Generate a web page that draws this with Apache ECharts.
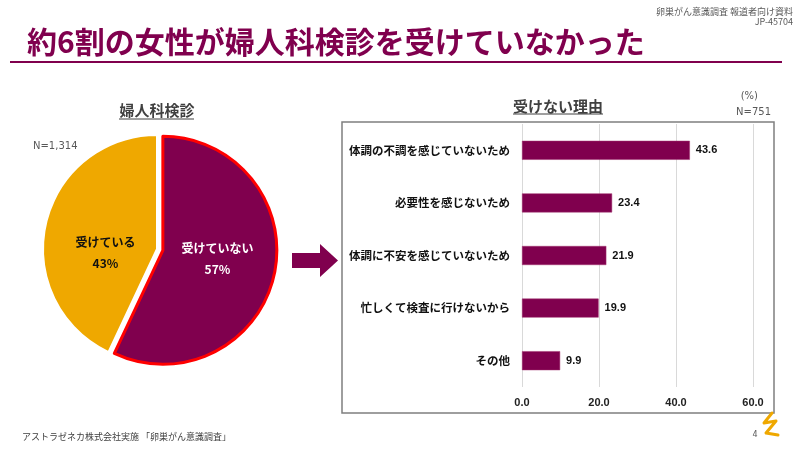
<!DOCTYPE html>
<html><head><meta charset="utf-8">
<script src="https://cdn.jsdelivr.net/npm/echarts@6/dist/echarts.min.js"></script>
<style>html,body{margin:0;padding:0;background:#fff}#c{width:800px;height:450px}</style>
</head><body><div id="c"></div>
<script>
const pieNames = ['受けていない', '受けている'];
const pieValues = [57, 43];
const reasonCategories = ['体調の不調を感じていないため', '必要性を感じないため', '体調に不安を感じていないため', '忙しくて検査に行けないから', 'その他'];
const reasonValues = [43.6, 23.4, 21.9, 19.9, 9.9];
const xTicks = [0, 20, 40, 60];

const PURPLE = '#80004E';
const YELLOW = '#EFA800';
const FONT = '"Noto Sans CJK JP", "Noto Sans", sans-serif';

const chart = echarts.init(document.getElementById('c'));
chart.setOption({
  animation: false,
  textStyle: { fontFamily: FONT },
  grid: { left: 522, right: 47, top: 124, bottom: 63, containLabel: false },
  xAxis: {
    type: 'value', min: xTicks[0], max: xTicks[xTicks.length - 1], interval: 20,
    axisLine: { show: false }, axisTick: { show: false },
    splitLine: { show: true, lineStyle: { color: '#d9d9d9', width: 1 } },
    axisLabel: { formatter: v => v.toFixed(1), color: '#222', fontWeight: 'bold', fontSize: 11, fontFamily: '"Liberation Sans", Arial, sans-serif', margin: 10 }
  },
  yAxis: {
    type: 'category', data: reasonCategories, inverse: true,
    axisLine: { show: false }, axisTick: { show: false },
    axisLabel: { color: '#111', fontWeight: 'bold', fontSize: 11.5, margin: 12, fontFamily: FONT }
  },
  series: [
    {
      type: 'bar', data: reasonValues, barWidth: 19,
      itemStyle: { color: PURPLE, borderColor: '#a0306e', borderWidth: 0.5 },
      label: { show: true, position: 'right', distance: 6, formatter: p => p.value.toFixed(1), color: '#111', fontWeight: 'bold', fontSize: 11, fontFamily: '"Liberation Sans", Arial, sans-serif' }
    },
    {
      type: 'pie', center: [157, 249], radius: 114, startAngle: 90, clockwise: true,
      selectedMode: 'single', selectedOffset: 6,
      data: pieNames.map((n, i) => ({
        name: n, value: pieValues[i], selected: i === 0,
        itemStyle: i === 0 ? { color: PURPLE, borderColor: '#FF0000', borderWidth: 3 } : { color: YELLOW, borderColor: '#fff', borderWidth: 2 },
        label: i === 0 ? { color: '#fff', offset: [-4, -4] } : { color: '#111', offset: [7, 17] },
        select: i === 0 ? { label: { color: '#fff', offset: [-4, -4] } } : undefined
      })),
      label: {
        show: true, position: 'inside', formatter: p => p.name + '\n' + p.value + '%',
        fontWeight: 'bold', fontSize: 12, lineHeight: 21, fontFamily: FONT
      },
      labelLine: { show: false },
      emphasis: { disabled: true }
    }
  ],
  graphic: [
    { type: 'text', right: 7, top: 7, style: { text: '卵巣がん意識調査 報道者向け資料', fill: '#595959', font: '9px ' + FONT, textAlign: 'right' } },
    { type: 'text', right: 7, top: 17, style: { text: 'JP-45704', fill: '#595959', font: '9px ' + FONT, textAlign: 'right' } },
    { type: 'text', left: 27, top: 27, style: { text: '約6割の女性が婦人科検診を受けていなかった', fill: PURPLE, font: 'bold 30px ' + FONT } },
    { type: 'line', shape: { x1: 10, y1: 62, x2: 782, y2: 62 }, style: { stroke: PURPLE, lineWidth: 2 } },
    { type: 'text', x: 157, y: 110, style: { text: '婦人科検診', fill: '#404040', font: 'bold 15px ' + FONT, textAlign: 'center', textVerticalAlign: 'middle' } },
    { type: 'line', shape: { x1: 119, y1: 119, x2: 194, y2: 119 }, style: { stroke: '#404040', lineWidth: 1 } },
    { type: 'text', x: 33, y: 146, style: { text: 'N=1,314', fill: '#595959', font: '10px "DejaVu Sans", sans-serif', textVerticalAlign: 'middle' } },
    { type: 'text', x: 558, y: 106, style: { text: '受けない理由', fill: '#404040', font: 'bold 15px ' + FONT, textAlign: 'center', textVerticalAlign: 'middle' } },
    { type: 'line', shape: { x1: 513, y1: 114, x2: 603, y2: 114 }, style: { stroke: '#404040', lineWidth: 1 } },
    { type: 'text', x: 758, y: 96, style: { text: '(%)', fill: '#595959', font: '10px "DejaVu Sans", sans-serif', textAlign: 'right', textVerticalAlign: 'middle' } },
    { type: 'text', x: 771, y: 112, style: { text: 'N=751', fill: '#595959', font: '10px "DejaVu Sans", sans-serif', textAlign: 'right', textVerticalAlign: 'middle' } },
    { type: 'rect', shape: { x: 342, y: 122, width: 432, height: 291 }, style: { fill: 'none', stroke: '#7f7f7f', lineWidth: 1.5 }, z: -1 },
    { type: 'polygon', shape: { points: [[292, 253], [320, 253], [320, 244], [338, 260.5], [320, 277], [320, 268], [292, 268]] }, style: { fill: PURPLE } },
    { type: 'text', x: 22, y: 437, style: { text: 'アストラゼネカ株式会社実施 「卵巣がん意識調査」', fill: '#404040', font: '9px ' + FONT, textVerticalAlign: 'middle' } },
    { type: 'text', x: 755, y: 435, style: { text: '4', fill: '#595959', font: '8px "DejaVu Sans", sans-serif', textAlign: 'center', textVerticalAlign: 'middle' } },
    { type: 'polyline', shape: { points: [[772, 413], [764, 423], [776, 421], [766, 433], [778, 435]] }, style: { stroke: YELLOW, lineWidth: 3, fill: 'none', lineJoin: 'round', lineCap: 'round' } }
  ]
});
</script></body></html>
